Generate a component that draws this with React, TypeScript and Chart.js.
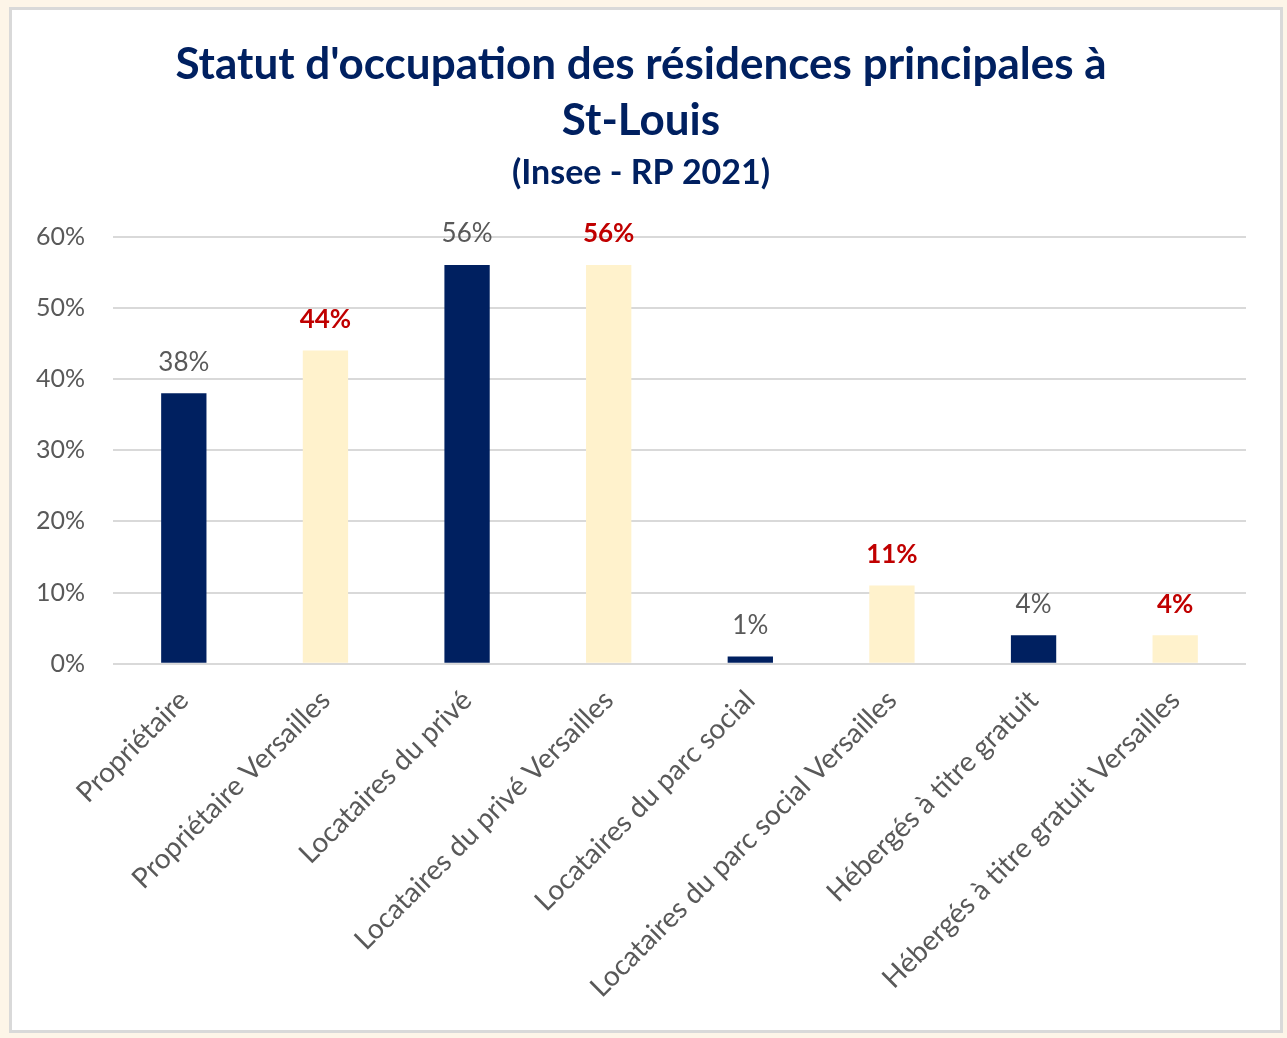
import React, { useEffect, useRef } from "react";
import { Chart, registerables } from "chart.js";

Chart.register(...registerables);

const categories = [
  "Propriétaire",
  "Propriétaire Versailles",
  "Locataires du privé",
  "Locataires du privé Versailles",
  "Locataires du parc social",
  "Locataires du parc social Versailles",
  "Hébergés à titre gratuit",
  "Hébergés à titre gratuit Versailles",
];
const values = [38, 44, 56, 56, 1, 11, 4, 4];
const isVersailles = [false, true, false, true, false, true, false, true];
const yTicks = [0, 10, 20, 30, 40, 50, 60];

const NAVY = "#002060";
const CREAM = "#fff2cc";
const FONT = "Lato, 'Open Sans', sans-serif";

const labelPlugin = {
  id: "barLabels",
  afterDatasetsDraw(chart: any) {
    const ctx = chart.ctx;
    const meta = chart.getDatasetMeta(0);
    ctx.save();
    ctx.textAlign = "center";
    ctx.textBaseline = "bottom";
    meta.data.forEach((bar: any, i: number) => {
      const v = values[i];
      if (isVersailles[i]) {
        ctx.fillStyle = "#c00000";
        ctx.font = `bold 26px ${FONT}`;
      } else {
        ctx.fillStyle = "#595959";
        ctx.font = `26px ${FONT}`;
      }
      ctx.fillText(`${v}%`, bar.x, bar.y - 18);
    });
    ctx.restore();
  },
};

export default function App() {
  const ref = useRef<HTMLCanvasElement | null>(null);
  useEffect(() => {
    if (!ref.current) return;
    const chart = new Chart(ref.current, {
      type: "bar",
      data: {
        labels: categories,
        datasets: [
          {
            data: values,
            backgroundColor: isVersailles.map((v) => (v ? CREAM : NAVY)),
            barPercentage: 0.32,
            categoryPercentage: 1,
          },
        ],
      },
      options: {
        animation: false,
        responsive: false,
        layout: { autoPadding: false, padding: { left: 24, right: 34, top: 0, bottom: 14 } },
        plugins: {
          legend: { display: false },
          tooltip: { enabled: false },
          title: {
            display: true,
            text: ["Statut d'occupation des résidences principales à", "St-Louis"],
            color: "#002060",
            font: { family: FONT, size: 44, weight: "bold", lineHeight: 1.27 },
            padding: { top: 27, bottom: 0 },
          },
          subtitle: {
            display: true,
            text: "(Insee - RP 2021)",
            color: "#002060",
            font: { family: FONT, size: 34, weight: "bold", lineHeight: 1.2 },
            padding: { top: 4, bottom: 43 },
          },
        },
        scales: {
          x: {
            grid: { display: false },
            border: { display: false },
            afterFit: (scale: any) => {
              scale.paddingLeft = 0;
              scale.paddingRight = 0;
            },
            ticks: {
              color: "#595959",
              font: { family: FONT, size: 28 },
              minRotation: 45,
              maxRotation: 45,
              padding: 12,
            },
          },
          y: {
            min: 0,
            max: 60,
            afterBuildTicks: (axis: any) => {
              axis.ticks = yTicks.map((v) => ({ value: v }));
            },
            afterFit: (scale: any) => {
              scale.width = 77;
            },
            grid: { color: "#d9d9d9", lineWidth: 2, drawTicks: false },
            border: { display: false },
            ticks: {
              color: "#595959",
              font: { family: FONT, size: 25 },
              padding: 28,
              callback: (v: any) => `${v}%`,
            },
          },
        },
      },
      plugins: [labelPlugin],
    });
    return () => chart.destroy();
  }, []);

  return (
    <div
      style={{
        position: "absolute",
        left: 0,
        top: 0,
        width: 1287,
        height: 1038,
        background: "#fdf5e8",
      }}
    >
      <div
        style={{
          position: "absolute",
          left: 9,
          top: 7,
          width: 1274,
          height: 1026,
          boxSizing: "border-box",
          border: "3px solid #d9d9d9",
          background: "#ffffff",
        }}
      >
        <canvas ref={ref} width={1268} height={1020} style={{ display: "block" }} />
      </div>
    </div>
  );
}
